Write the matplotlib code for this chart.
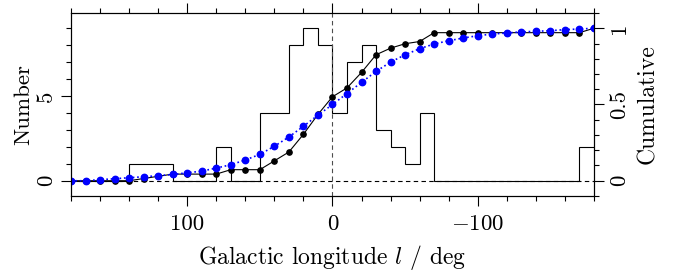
import numpy as np
import matplotlib
matplotlib.use('Agg')
import matplotlib.pyplot as plt
from matplotlib.ticker import MultipleLocator

plt.rcParams['font.family'] = 'cmr10'
plt.rcParams['mathtext.fontset'] = 'cm'
plt.rcParams['axes.unicode_minus'] = False

# histogram: 10 deg bins from l=180 down to l=-180
edges = np.arange(180, -181, -10)
counts = [0, 0, 0, 0, 1, 1, 1, 0, 0, 0, 2, 0, 0, 4, 4, 8, 9, 8,
          4, 7, 8, 3, 2, 1, 4, 0, 0, 0, 0, 0, 0, 0, 0, 0, 0, 2]

# model cumulative (blue), read at each bin edge
model_cum = [0.0, 0.0, 0.007, 0.013, 0.02, 0.026, 0.033, 0.041, 0.052, 0.063,
             0.083, 0.105, 0.136, 0.173, 0.226, 0.287, 0.357, 0.43, 0.5,
             0.572, 0.645, 0.717, 0.778, 0.826, 0.866, 0.897, 0.918, 0.936,
             0.951, 0.962, 0.969, 0.976, 0.98, 0.984, 0.991, 0.995, 1.0]

# observed cumulative of the histogram
obs_cum = np.concatenate([[0], np.cumsum(counts)]) / np.sum(counts)

fig = plt.figure(figsize=(6.73, 2.71), dpi=100)
ax = fig.add_axes([0.1055, 0.2768, 0.777, 0.6752])
ax2 = ax.twinx()

ax.stairs(counts, edges, color='k', lw=0.8, baseline=None)
ax.axhline(0, color='k', ls=(0, (4, 3)), lw=0.8)
ax.axvline(0, color='0.3', ls=(0, (4, 3)), lw=0.8)

ax2.plot(edges, obs_cum, color='k', lw=0.8, marker='o', ms=3.8)
ax2.plot(edges, model_cum, color='blue', ls=':', lw=1.2, marker='o', ms=4.6)

ax.set_xlim(180, -180)
ax.set_ylim(-0.9, 9.9)
ax2.set_ylim(-0.1, 1.1)

ax.set_xticks([100, 0, -100])
ax.set_xticklabels(['100', '0', '$-100$'])
ax.xaxis.set_minor_locator(MultipleLocator(20))
ax.set_yticks([0, 5])
ax.set_yticklabels(['0', '5'], rotation=90, va='center')
ax.yaxis.set_minor_locator(MultipleLocator(1))
ax2.set_yticks([0, 0.5, 1])
ax2.set_yticklabels(['0', '0.5', '1'], rotation=90, va='center')
ax2.yaxis.set_minor_locator(MultipleLocator(0.1))

ax.tick_params(which='both', direction='out', top=True, right=False,
               labelsize=16.5, width=0.8)
ax.tick_params(which='major', length=7)
ax.tick_params(which='minor', length=3.6)
ax.tick_params(axis='x', pad=6)
ax.tick_params(axis='y', pad=4)
ax2.tick_params(which='both', direction='out', labelsize=16.5, width=0.8, pad=4)
ax2.tick_params(which='major', length=7)
ax2.tick_params(which='minor', length=3.6)

ax.set_xlabel('Galactic longitude $l$ / deg', fontsize=17, labelpad=7)
ax.set_ylabel('Number', fontsize=16.5, labelpad=2)
ax2.set_ylabel('Cumulative', fontsize=17, rotation=90, labelpad=6)

fig.savefig('out.png', dpi=100)
